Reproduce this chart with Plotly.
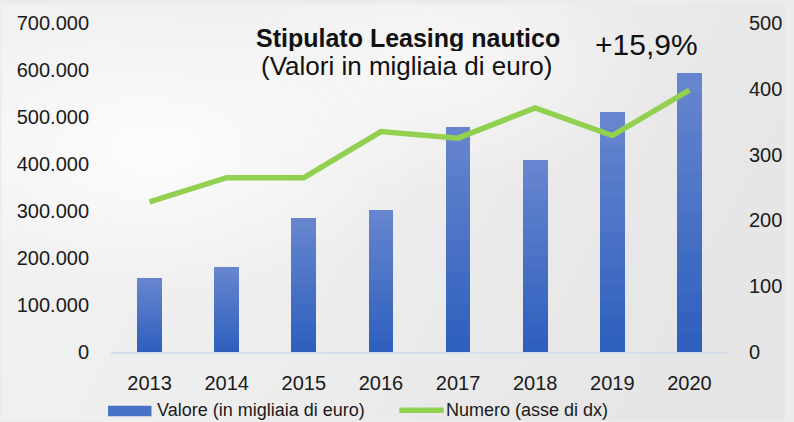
import base64
import plotly.graph_objects as go

# ---- data ----
years = ["2013", "2014", "2015", "2016", "2017", "2018", "2019", "2020"]
valore = [158000, 181000, 286000, 303000, 479000, 408000, 511500, 593000]
numero = [228, 265, 265, 335, 325, 371, 329, 398]
left_ticks = [0, 100000, 200000, 300000, 400000, 500000, 600000, 700000]
right_ticks = [0, 100, 200, 300, 400, 500]
title_text = "<b>Stipulato Leasing nautico</b>"
subtitle_text = "(Valori in migliaia di euro)"
growth_text = "+15,9%"
legend_names = ["Valore (in migliaia di euro)", "Numero (asse di dx)"]

W, H = 794, 422
L, R, T, B = 111, 58, 19, 70
PW, PH = W - L - R, H - T - B

FONT = "Liberation Sans, Arial, sans-serif"
BLUE = "#4872c8"
BLUE_BOTTOM = (0x2f, 0x60, 0xbe)
BLUE_TOP = (0x66, 0x85, 0xce)
GREEN = "#92d050"
N_SEG = 14  # vertical gradient steps inside each bar


def px_x(p):
    return (p - L) / PW


def px_y(p):
    return (H - B - p) / PH


def mix(a, b, t):
    return "rgb(%d,%d,%d)" % tuple(round(a[i] + (b[i] - a[i]) * t) for i in range(3))


# marble-like light background as an svg gradient
svg = f"""<svg xmlns='http://www.w3.org/2000/svg' width='{W}' height='{H}'>
<defs>
<linearGradient id='g' x1='0' y1='0' x2='1' y2='0.3'>
<stop offset='0' stop-color='#f2f2f2'/>
<stop offset='0.5' stop-color='#eeeeee'/>
<stop offset='1' stop-color='#e6e6e6'/>
</linearGradient>
<radialGradient id='r1' cx='0.2' cy='0.35' r='0.35'>
<stop offset='0' stop-color='#ffffff' stop-opacity='0.85'/>
<stop offset='1' stop-color='#ffffff' stop-opacity='0'/>
</radialGradient>
<radialGradient id='r2' cx='0.55' cy='0.15' r='0.3'>
<stop offset='0' stop-color='#ffffff' stop-opacity='0.6'/>
<stop offset='1' stop-color='#ffffff' stop-opacity='0'/>
</radialGradient>
</defs>
<rect width='100%' height='100%' fill='url(#g)'/>
<rect width='100%' height='100%' fill='url(#r1)'/>
<rect width='100%' height='100%' fill='url(#r2)'/>
</svg>"""
bg_src = "data:image/svg+xml;base64," + base64.b64encode(svg.encode()).decode()

fig = go.Figure()
# bars: each value stacked in equal slices so the colour darkens toward the base
for k in range(N_SEG):
    t = k / (N_SEG - 1)
    fig.add_trace(go.Bar(
        x=years, y=[v / N_SEG for v in valore], name=legend_names[0],
        marker=dict(color=mix(BLUE_BOTTOM, BLUE_TOP, t), line=dict(width=0)),
        customdata=valore, hovertemplate="%{x}: %{customdata:,d}<extra></extra>",
        yaxis="y", showlegend=False, legendgroup="valore",
    ))
fig.add_trace(go.Scatter(
    x=years, y=numero, name=legend_names[1], mode="lines",
    line=dict(color=GREEN, width=5.5),
    yaxis="y2", showlegend=False,
))

fig.update_layout(
    width=W, height=H,
    margin=dict(l=L, r=R, t=T, b=B, pad=0),
    paper_bgcolor="#ececec",
    plot_bgcolor="rgba(0,0,0,0)",
    separators=",.",
    barmode="stack",
    bargap=0.68,
    font=dict(family=FONT, color="#1a1a1a", size=20),
    xaxis=dict(
        type="category", showgrid=False, zeroline=False,
        showline=True, linecolor="#d6deeb", linewidth=1.5,
        ticks="outside", ticklen=12, tickcolor="rgba(0,0,0,0)",
        tickfont=dict(size=20, family=FONT, color="#1a1a1a"),
    ),
    yaxis=dict(
        range=[0, 700000], tickvals=left_ticks, tickformat=",d",
        showgrid=False, zeroline=False, showline=False,
        ticks="outside", ticklen=17, tickcolor="rgba(0,0,0,0)",
        tickfont=dict(size=20, family=FONT, color="#1a1a1a"),
    ),
    yaxis2=dict(
        range=[0, 500], tickvals=right_ticks, overlaying="y", side="right",
        showgrid=False, zeroline=False, showline=False,
        ticks="outside", ticklen=16, tickcolor="rgba(0,0,0,0)",
        tickfont=dict(size=20, family=FONT, color="#1a1a1a"),
    ),
    images=[dict(
        source=bg_src, xref="paper", yref="paper",
        x=-L / PW, y=1 + T / PH, sizex=W / PW, sizey=H / PH,
        xanchor="left", yanchor="top", sizing="stretch", layer="below",
    )],
    showlegend=False,
)

# titles
fig.add_annotation(text=title_text, xref="paper", yref="paper",
                   x=px_x(412), y=px_y(34), showarrow=False,
                   xanchor="center", yanchor="middle", height=26, valign="middle",
                   font=dict(size=25, family=FONT, color="#111111"))
fig.add_annotation(text=subtitle_text, xref="paper", yref="paper",
                   x=px_x(410), y=px_y(63), showarrow=False,
                   xanchor="center", yanchor="middle", height=28, valign="middle",
                   font=dict(size=26, family=FONT, color="#111111"))
fig.add_annotation(text=growth_text, xref="paper", yref="paper",
                   x=px_x(653), y=px_y(41), showarrow=False,
                   xanchor="center", yanchor="middle",
                   font=dict(size=30, family=FONT, color="#111111"))

# custom legend
fig.add_shape(type="rect", xref="paper", yref="paper",
              x0=px_x(108), x1=px_x(152), y0=px_y(417), y1=px_y(406.5),
              fillcolor=BLUE, line=dict(width=0))
fig.add_annotation(text=legend_names[0], xref="paper", yref="paper",
                   x=px_x(156), y=px_y(411), showarrow=False,
                   xanchor="left", yanchor="middle",
                   font=dict(size=18, family=FONT, color="#1a1a1a"))
fig.add_shape(type="line", xref="paper", yref="paper",
              x0=px_x(403), x1=px_x(448), y0=px_y(411), y1=px_y(411),
              line=dict(color=GREEN, width=5.5))
fig.add_annotation(text=legend_names[1], xref="paper", yref="paper",
                   x=px_x(448), y=px_y(411), showarrow=False,
                   xanchor="left", yanchor="middle",
                   font=dict(size=18, family=FONT, color="#1a1a1a"))

fig.write_html("out.html", config={"displayModeBar": False})

# remove the browser's default body margin so the figure sits at the page origin
with open("out.html", "r", encoding="utf-8") as f:
    html = f.read()
html = html.replace("<head>", "<head><style>html,body{margin:0;padding:0;overflow:hidden;}</style>", 1)
with open("out.html", "w", encoding="utf-8") as f:
    f.write(html)
